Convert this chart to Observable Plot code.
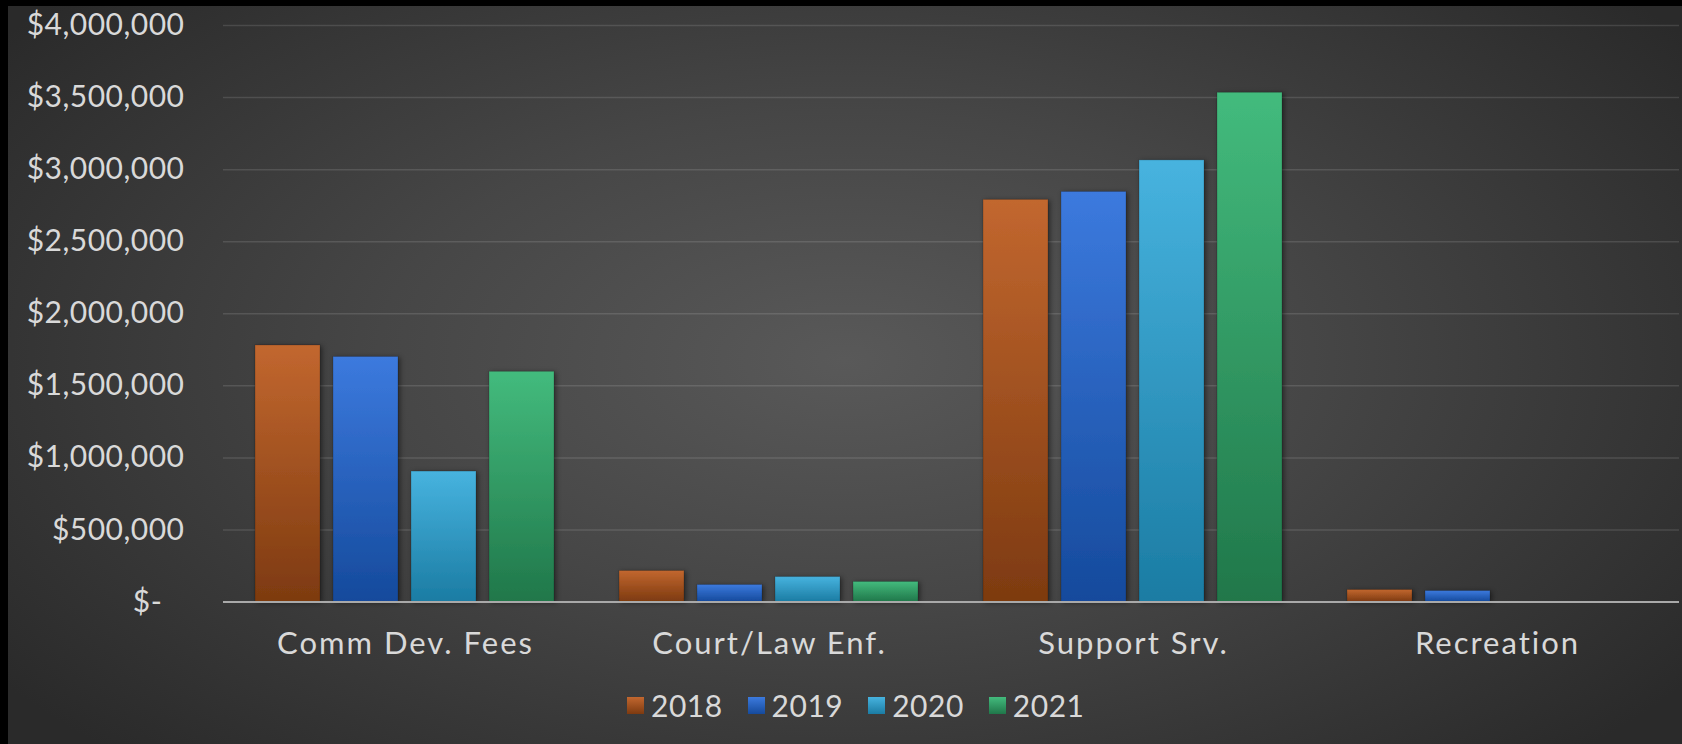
<!DOCTYPE html>
<html>
<head>
<meta charset="utf-8">
<script src="https://cdn.jsdelivr.net/npm/d3@7"></script>
<script src="https://cdn.jsdelivr.net/npm/@observablehq/plot@0.6"></script>
<style>
  html, body { margin: 0; padding: 0; background: #000; width: 1682px; height: 744px; overflow: hidden; }
  #wrap {
    position: absolute; left: 8px; top: 6px; width: 1674px; height: 738px;
    background: radial-gradient(ellipse 62% 75% at 50% 48%, #595959 0%, #464646 45%, #2a2a2a 100%);
    font-family: Lato, "DejaVu Sans", sans-serif;
  }
  #chart { position: absolute; left: 0; top: 0; }
  #legend {
    position: absolute; left: 619px; top: 684px; height: 30px;
    display: flex; align-items: center; color: #d9d9d9; font-size: 30px; line-height: 30px; letter-spacing: 0.5px;
  }
  #legend .item { display: flex; align-items: center; margin-right: 25px; }
  #legend .sw { width: 17px; height: 17px; margin-right: 7px; }
</style>
</head>
<body>
<div id="wrap">
  <div id="chart"></div>
  <div id="legend"></div>
</div>
<script>
const categories = ["Comm Dev. Fees", "Court/Law Enf.", "Support Srv.", "Recreation"];
const years = ["2018", "2019", "2020", "2021"];
const v2018 = [1780000, 215000, 2790000, 83000];
const v2019 = [1700000, 118000, 2845000, 76000];
const v2020 = [905000, 173000, 3064000, null];
const v2021 = [1597000, 139000, 3533000, null];
const yTicks = [0, 500000, 1000000, 1500000, 2000000, 2500000, 3000000, 3500000, 4000000];
const topColors = ["#c2672f", "#3c7ade", "#47b3df", "#43bb7d"];
const bottomColors = ["#7d3a10", "#154a9c", "#1b7ca3", "#20774a"];

const series = [v2018, v2019, v2020, v2021];
const rows = [];
categories.forEach((c, i) => {
  years.forEach((y, j) => {
    const v = series[j][i];
    if (v != null) rows.push({category: c, year: y, value: v});
  });
});

const fmt = d3.format(",");
const svg = Plot.plot({
  width: 1674,
  height: 680,
  marginLeft: 214,
  marginRight: 2,
  marginTop: 19,
  marginBottom: 84.5,
  style: {background: "transparent", color: "#d9d9d9", fontSize: "30px", fontFamily: "Lato, 'DejaVu Sans', sans-serif"},
  facet: {data: rows, x: "category"},
  fx: {domain: categories, paddingInner: 0, paddingOuter: 0, tickSize: 0, tickPadding: 30, label: null},
  x: {domain: years, paddingInner: 0.1646, paddingOuter: 0.389, axis: null},
  y: {domain: [0, 4000000], ticks: yTicks, tickSize: 0, tickPadding: 39, label: null,
      tickFormat: d => d === 0 ? "$-\u2007\u2009" : "$" + fmt(d)},
  color: {domain: years, range: years.map(y => `url(#grad${y})`)},
  marks: [
    Plot.ruleY(yTicks.slice(1), {stroke: "white", strokeOpacity: 0.12, strokeWidth: 1.5}),
    Plot.barY(rows, {x: "year", y: "value", fill: "year", stroke: "black", strokeOpacity: 0.18, strokeWidth: 1}),
    Plot.ruleY([0], {stroke: "#a9a9a9", strokeWidth: 2})
  ]
});

const s = d3.select(svg);
const defs = s.insert("defs", ":first-child");
years.forEach((y, j) => {
  const g = defs.append("linearGradient").attr("id", "grad" + y).attr("x1", 0).attr("y1", 0).attr("x2", 0).attr("y2", 1);
  g.append("stop").attr("offset", "0%").attr("stop-color", topColors[j]);
  g.append("stop").attr("offset", "100%").attr("stop-color", bottomColors[j]);
});
const f = defs.append("filter").attr("id", "shadow").attr("x", "-20%").attr("y", "-20%").attr("width", "140%").attr("height", "140%");
f.append("feDropShadow").attr("dx", 2).attr("dy", 1).attr("stdDeviation", 2.5).attr("flood-color", "#000").attr("flood-opacity", 0.45);
s.selectAll("g[aria-label='bar']").attr("filter", "url(#shadow)");
s.selectAll("g[aria-label^='fx-axis'] text").style("letter-spacing", "2px").style("font-size", "31px");
s.selectAll("g[aria-label^='y-axis'] text").style("letter-spacing", "0.5px");

document.getElementById("chart").appendChild(svg);

const legend = d3.select("#legend");
years.forEach((y, j) => {
  const it = legend.append("div").attr("class", "item");
  it.append("div").attr("class", "sw").style("background", `linear-gradient(${topColors[j]}, ${bottomColors[j]})`);
  it.append("span").text(y);
});
</script>
</body>
</html>
